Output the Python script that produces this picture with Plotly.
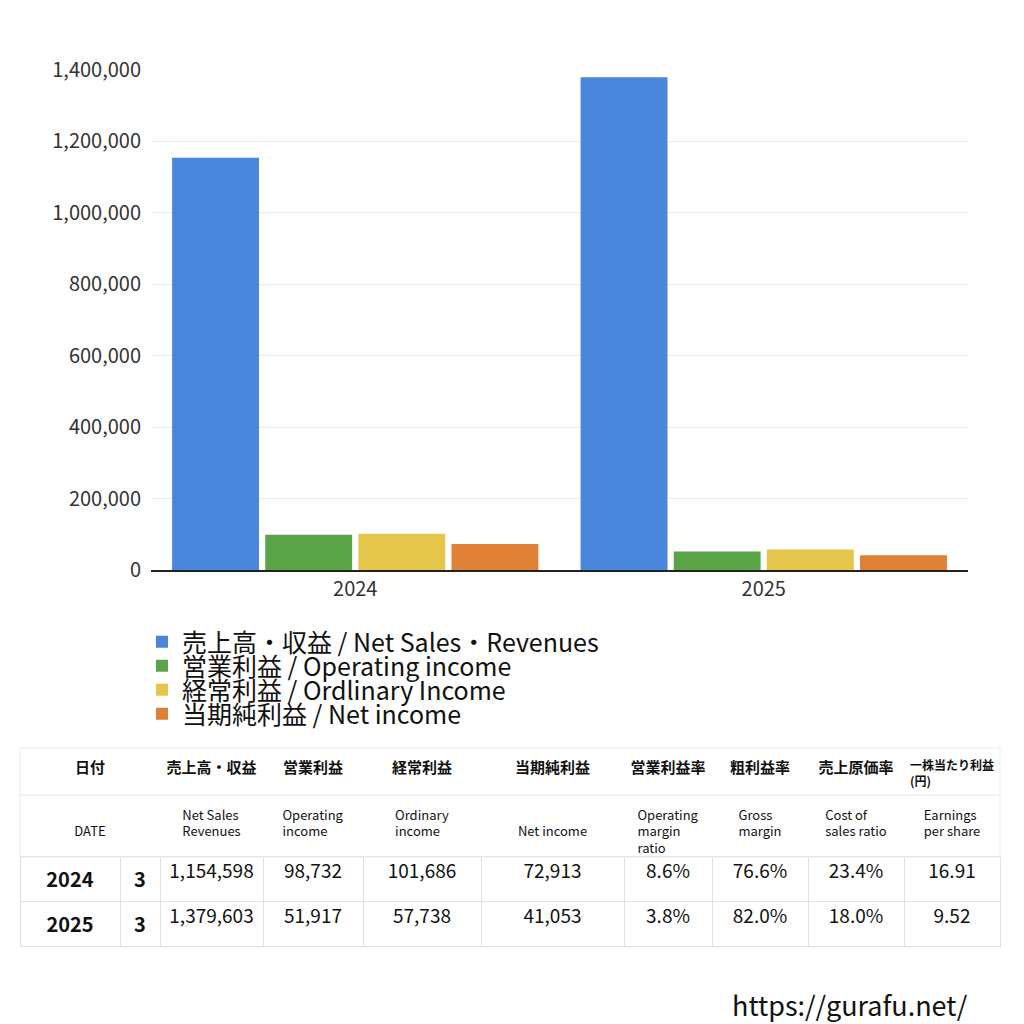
import plotly.graph_objects as go

# ---------------- data ----------------
years = ["2024", "2025"]
months = ["3", "3"]
net_sales = [1154598, 1379603]
operating_income = [98732, 51917]
ordinary_income = [101686, 57738]
net_income = [72913, 41053]
operating_margin = ["8.6%", "3.8%"]
gross_margin = ["76.6%", "82.0%"]
cost_ratio = ["23.4%", "18.0%"]
eps = ["16.91", "9.52"]

series_names = [
    "売上高・収益 / Net Sales・Revenues",
    "営業利益 / Operating income",
    "経常利益 / Ordlinary Income",
    "当期純利益 / Net income",
]
series_values = [net_sales, operating_income, ordinary_income, net_income]
series_colors = ["#4a86dc", "#5aa447", "#e4c64a", "#de8035"]

header_jp = ["日付", "売上高・収益", "営業利益", "経常利益", "当期純利益",
             "営業利益率", "粗利益率", "売上原価率", "一株当たり利益<br>(円)"]
header_en = ["\u00a0<br>DATE", "Net Sales<br>Revenues", "Operating<br>income", "Ordinary<br>income",
             "\u00a0<br>Net income", "Operating<br>margin<br>ratio", "Gross<br>margin",
             "Cost of<br>sales ratio", "Earnings<br>per share"]

FONT = "Noto Sans CJK JP, Noto Sans, sans-serif"
H = 1024.0
OFF = 8.0  # page body margin


def py(pix):
    return 1 - (pix - OFF) / H


def px(pix):
    return (pix - OFF) / H


fig = go.Figure()
legend_keys = ["legend", "legend2", "legend3", "legend4"]
for name, vals, col, lk in zip(series_names, series_values, series_colors, legend_keys):
    fig.add_trace(go.Bar(x=years, y=vals, name=name, legend=lk,
                         marker=dict(color=col, line=dict(width=0))))

# ---- table part 1: headers ----
w1 = [140, 103, 100, 118, 143, 88, 96, 96, 96]
fig.add_trace(go.Table(
    domain=dict(x=[px(20), px(1000)], y=[py(870), py(748)]),
    columnwidth=w1,
    header=dict(values=[f"<b>{h}</b>" for h in header_jp],
                height=47, align="center", fill_color="white",
                line=dict(color="white", width=1),
                font=dict(family=FONT, size=[15]*8 + [12], color="#111")),
    cells=dict(values=[[h] for h in header_en],
               height=62, align="center", fill_color="white",
               line=dict(color="white", width=1),
               font=dict(family=FONT, size=13, color="#111")),
))

# ---- table part 2: data rows ----
def fmt(v):
    return f"{v:,}"


cols = [
    [f"<b>{y}</b>" for y in years],
    [f"<b>{m}</b>" for m in months],
    [fmt(v) for v in net_sales],
    [fmt(v) for v in operating_income],
    [fmt(v) for v in ordinary_income],
    [fmt(v) for v in net_income],
    operating_margin, gross_margin, cost_ratio, eps,
]
w2 = [100, 40, 103, 100, 118, 143, 88, 96, 96, 96]
fig.add_trace(go.Table(
    domain=dict(x=[px(20), px(1000)], y=[py(970), py(856)]),
    columnwidth=w2,
    header=dict(values=[c[0] for c in cols], height=40,
                align="center", fill_color="white",
                line=dict(color="#e0e0e0", width=1),
                font=dict(family=FONT, size=[20, 20] + [19]*8, color="#111")),
    cells=dict(values=[[c[1]] for c in cols], height=40,
               align="center", fill_color="white",
               line=dict(color="#e0e0e0", width=1),
               font=dict(family=FONT, size=[20, 20] + [19]*8, color="#111")),
))

# table frame / separators
fig.add_shape(type="rect", xref="paper", yref="paper", x0=px(20), x1=px(1000),
              y0=py(857), y1=py(748), line=dict(color="#ececec", width=1), layer="above")
fig.add_shape(type="line", xref="paper", yref="paper", x0=px(20), x1=px(1000),
              y0=py(795), y1=py(795), line=dict(color="#e6e6e6", width=1), layer="above")

fig.add_annotation(text="https://gurafu.net/", x=px(970), y=py(1004),
                   xref="paper", yref="paper", xanchor="right", yanchor="middle",
                   showarrow=False, font=dict(family=FONT, size=27, color="#111"))

legend_style = dict(x=px(142), xanchor="left", yanchor="middle",
                    font=dict(size=25, color="#111", family=FONT),
                    bgcolor="rgba(0,0,0,0)", itemwidth=30)
legend_y = [642, 666, 690, 714]

fig.update_layout(
    width=1024, height=1024,
    margin=dict(l=0, r=0, t=0, b=0),
    paper_bgcolor="white", plot_bgcolor="white",
    barmode="group", bargap=0.088, bargroupgap=0.067,
    font=dict(family=FONT, color="#333"),
    xaxis=dict(domain=[px(151), px(968)], showline=True, linecolor="#222", linewidth=1.5,
               tickfont=dict(size=20, color="#333"), ticks="", showgrid=False,
               automargin=False),
    yaxis=dict(domain=[py(570), py(70)], range=[0, 1400000], dtick=200000,
               tickformat=",", gridcolor="#ebebeb", zeroline=False, automargin=False,
               tickfont=dict(size=20, color="#333"), ticksuffix="  "),
    legend=dict(y=py(legend_y[0]), **legend_style),
    legend2=dict(y=py(legend_y[1]), **legend_style),
    legend3=dict(y=py(legend_y[2]), **legend_style),
    legend4=dict(y=py(legend_y[3]), **legend_style),
    showlegend=True,
)

fig.write_html("out.html")
